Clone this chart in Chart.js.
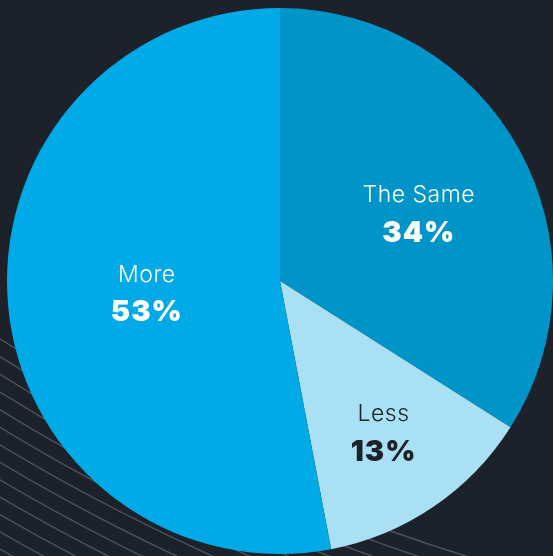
<!DOCTYPE html>
<html>
<head>
<meta charset="utf-8">
<script src="https://cdn.jsdelivr.net/npm/chart.js@4"></script>
<style>
  html, body { margin: 0; padding: 0; background: #1c212a; }
  #wrap { width: 553px; height: 556px; position: relative; }
</style>
</head>
<body>
<div id="wrap"><canvas id="pie"></canvas></div>
<script>
// data
const categories = ['The Same', 'Less', 'More'];
const shares = [34, 13, 53];
const sliceColors = ['#0095c8', '#a9e0f3', '#00aae6'];
const textColors = ['#ffffff', '#1c212a', '#ffffff'];

// background stripes (decoration behind the pie)
const stripes = {
  id: 'stripes',
  beforeDatasetsDraw(chart) {
    const ctx = chart.ctx;
    ctx.save();
    ctx.strokeStyle = 'rgba(120,126,136,0.5)';
    ctx.lineWidth = 1.5;
    for (let r = 1920; r < 2150; r += 15) {
      ctx.beginPath();
      ctx.arc(1037, -1277, r, Math.PI * 0.5, Math.PI * 0.8);
      ctx.stroke();
    }
    ctx.restore();
  }
};

// labels inside slices
const sliceLabels = {
  id: 'sliceLabels',
  afterDatasetsDraw(chart, args, opts) {
    const ctx = chart.ctx;
    const meta = chart.getDatasetMeta(0);
    meta.data.forEach((arc, i) => {
      const p = arc.getProps(['x', 'y', 'startAngle', 'endAngle', 'outerRadius'], true);
      const mid = (p.startAngle + p.endAngle) / 2 + opts.turn[i] * Math.PI / 180;
      const d = p.outerRadius * opts.radius[i];
      const x = p.x + Math.cos(mid) * d;
      const y = p.y + Math.sin(mid) * d;
      ctx.save();
      ctx.fillStyle = textColors[i];
      ctx.textAlign = 'center';
      ctx.textBaseline = 'middle';
      ctx.font = '300 23px Inter, Lato, sans-serif';
      ctx.letterSpacing = '0.5px';
      ctx.fillText(categories[i], x, y - 19);
      ctx.font = '900 29px Inter, Lato, sans-serif';
      ctx.letterSpacing = '1px';
      ctx.fillText(shares[i] + '%', x, y + 19);
      ctx.restore();
    });
  }
};

new Chart(document.getElementById('pie'), {
  type: 'pie',
  data: {
    labels: categories,
    datasets: [{
      data: shares,
      backgroundColor: sliceColors,
      borderWidth: 0
    }]
  },
  options: {
    responsive: true,
    maintainAspectRatio: false,
    animation: false,
    layout: { padding: { left: 7, right: 0, top: 8, bottom: 2 } },
    plugins: {
      legend: { display: false },
      tooltip: { enabled: false },
      sliceLabels: { radius: [0.565, 0.675, 0.49], turn: [3, 0, 0] }
    }
  },
  plugins: [stripes, sliceLabels]
});
</script>
</body>
</html>
